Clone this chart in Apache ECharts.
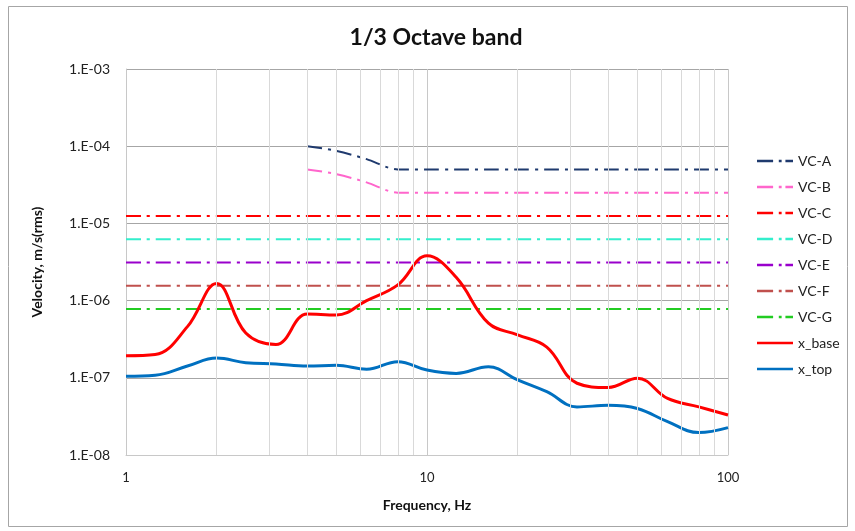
<!DOCTYPE html>
<html>
<head>
<meta charset="utf-8">
<script src="https://cdn.jsdelivr.net/npm/echarts@6/dist/echarts.min.js"></script>
<style>
  html, body { margin: 0; padding: 0; background: #fff; }
  #main { width: 855px; height: 531px; }
</style>
</head>
<body>
<div id="main"></div>
<script>
// 1/3 octave band centre frequencies, Hz
var bands = [1, 1.25, 1.6, 2, 2.5, 3.15, 4, 5, 6.3, 8, 10, 12.5, 16, 20, 25, 31.5, 40, 50, 63, 80, 100]

// measured velocities, m/s (rms)
var xBase = [1.93e-7, 2.0e-7, 4.6e-7, 1.67e-6, 3.8e-7, 2.7e-7, 6.7e-7, 6.5e-7, 1.0e-6, 1.6e-6,
  3.8e-6, 2.0e-6, 5.1e-7, 3.6e-7, 2.5e-7, 8.5e-8, 7.5e-8, 9.9e-8, 5.4e-8, 4.2e-8, 3.3e-8]
var xTop = [1.05e-7, 1.08e-7, 1.42e-7, 1.8e-7, 1.57e-7, 1.51e-7, 1.42e-7, 1.45e-7, 1.29e-7, 1.62e-7,
  1.26e-7, 1.14e-7, 1.39e-7, 9.4e-8, 6.6e-8, 4.2e-8, 4.4e-8, 4.0e-8, 2.7e-8, 1.95e-8, 2.26e-8]

// vibration criteria
var vcA = [null, null, null, null, null, null, 1.0e-4, 8.7e-5, 6.8e-5, 5.0e-5,
  5.0e-5, 5.0e-5, 5.0e-5, 5.0e-5, 5.0e-5, 5.0e-5, 5.0e-5, 5.0e-5, 5.0e-5, 5.0e-5, 5.0e-5]
var vcB = [null, null, null, null, null, null, 5.0e-5, 4.35e-5, 3.4e-5, 2.5e-5,
  2.5e-5, 2.5e-5, 2.5e-5, 2.5e-5, 2.5e-5, 2.5e-5, 2.5e-5, 2.5e-5, 2.5e-5, 2.5e-5, 2.5e-5]
var vcC = 1.25e-5
var vcD = 6.25e-6
var vcE = 3.12e-6
var vcF = 1.56e-6
var vcG = 7.8e-7

// minor vertical grid lines
var minorX = [2, 3, 4, 5, 6, 7, 8, 9, 20, 30, 40, 50, 60, 70, 80, 90]

var font = 'Lato, "Open Sans", sans-serif'
var dashDot = [15, 6, 3, 6]
// legend glyphs
var dashDotIcon = 'path://M0,0H17V2H0Z M23,0H26V2H23Z M30,0H38V2H30Z'
var solidIcon = 'path://M0,0H38V2H0Z'

function pairs(xs, ys) {
  return xs.map(function (x, i) { return [x, ys[i]] })
}
function flat(v) {
  return [[1, v], [100, v]]
}
function vcSeries(name, data, color) {
  return {
    name: name,
    type: 'line',
    data: data,
    symbol: 'none',
    smooth: 0.3,
    z: 3,
    lineStyle: { color: color, width: 2, type: dashDot },
    itemStyle: { color: color }
  }
}

var myChart = echarts.init(document.getElementById('main'))

var options = {
  animation: false,
  backgroundColor: '#fff',
  title: {
    text: '1/3 Octave band',
    left: 431,
    top: 21,
    textAlign: 'center',
    textStyle: { fontFamily: font, fontSize: 23, fontWeight: 'bold', color: '#111' }
  },
  graphic: [{
    type: 'rect',
    shape: { x: 8.5, y: 6.5, width: 839, height: 520 },
    style: { fill: 'none', stroke: '#a6a6a6', lineWidth: 1 },
    silent: true
  }],
  legend: {
    orient: 'vertical',
    left: 752,
    top: 149,
    itemWidth: 36,
    itemHeight: 2.5,
    symbolKeepAspect: false,
    itemGap: 12,
    textStyle: { fontFamily: font, fontSize: 14, color: '#222' },
    data: [
      { name: 'VC-A', icon: dashDotIcon },
      { name: 'VC-B', icon: dashDotIcon },
      { name: 'VC-C', icon: dashDotIcon },
      { name: 'VC-D', icon: dashDotIcon },
      { name: 'VC-E', icon: dashDotIcon },
      { name: 'VC-F', icon: dashDotIcon },
      { name: 'VC-G', icon: dashDotIcon },
      { name: 'x_base', icon: solidIcon },
      { name: 'x_top', icon: solidIcon }
    ]
  },
  grid: { left: 126, right: 127, top: 69, bottom: 76 },
  xAxis: {
    type: 'log',
    logBase: 10,
    min: 1,
    max: 100,
    name: 'Frequency, Hz',
    nameLocation: 'middle',
    nameGap: 43,
    nameTextStyle: { fontFamily: font, fontSize: 14, fontWeight: 'bold', color: '#111' },
    axisLine: { lineStyle: { color: '#c8c8c8' } },
    axisTick: { show: false },
    axisLabel: { fontFamily: font, fontSize: 13, color: '#222', margin: 16 },
    splitLine: { show: true, lineStyle: { color: '#c8c8c8' } }
  },
  yAxis: {
    type: 'log',
    logBase: 10,
    min: 1e-8,
    max: 1e-3,
    name: 'Velocity, m/s(rms)',
    nameLocation: 'middle',
    nameGap: 82,
    nameTextStyle: { fontFamily: font, fontSize: 14, fontWeight: 'bold', color: '#111' },
    axisLine: { show: true, lineStyle: { color: '#c8c8c8' } },
    axisTick: { show: false },
    axisLabel: {
      fontFamily: font,
      fontSize: 14,
      color: '#222',
      margin: 16,
      formatter: function (v) {
        var e = Math.round(-Math.log10(v))
        return '1.E-' + (e < 10 ? '0' + e : e)
      }
    },
    splitLine: { show: true, lineStyle: { color: '#a6a6a6' } }
  },
  series: [
    {
      name: 'grid',
      type: 'line',
      data: [],
      symbol: 'none',
      z: 1,
      silent: true,
      markLine: {
        silent: true,
        symbol: 'none',
        label: { show: false },
        lineStyle: { color: '#d9d9d9', type: 'solid', width: 1 },
        data: minorX.map(function (v) { return { xAxis: v } })
      }
    },
    vcSeries('VC-A', pairs(bands, vcA), '#1f3a6e'),
    vcSeries('VC-B', pairs(bands, vcB), '#ff66cc'),
    vcSeries('VC-C', flat(vcC), '#ff0000'),
    vcSeries('VC-D', flat(vcD), '#33eecc'),
    vcSeries('VC-E', flat(vcE), '#9900cc'),
    vcSeries('VC-F', flat(vcF), '#c0504d'),
    vcSeries('VC-G', flat(vcG), '#22cc22'),
    {
      name: 'x_base',
      type: 'line',
      data: pairs(bands, xBase),
      symbol: 'none',
      smooth: 0.4,
      z: 4,
      lineStyle: { color: '#ff0000', width: 3 },
      itemStyle: { color: '#ff0000' }
    },
    {
      name: 'x_top',
      type: 'line',
      data: pairs(bands, xTop),
      symbol: 'none',
      smooth: 0.4,
      z: 4,
      lineStyle: { color: '#0070c0', width: 3 },
      itemStyle: { color: '#0070c0' }
    }
  ]
}

myChart.setOption(options)
</script>
</body>
</html>
